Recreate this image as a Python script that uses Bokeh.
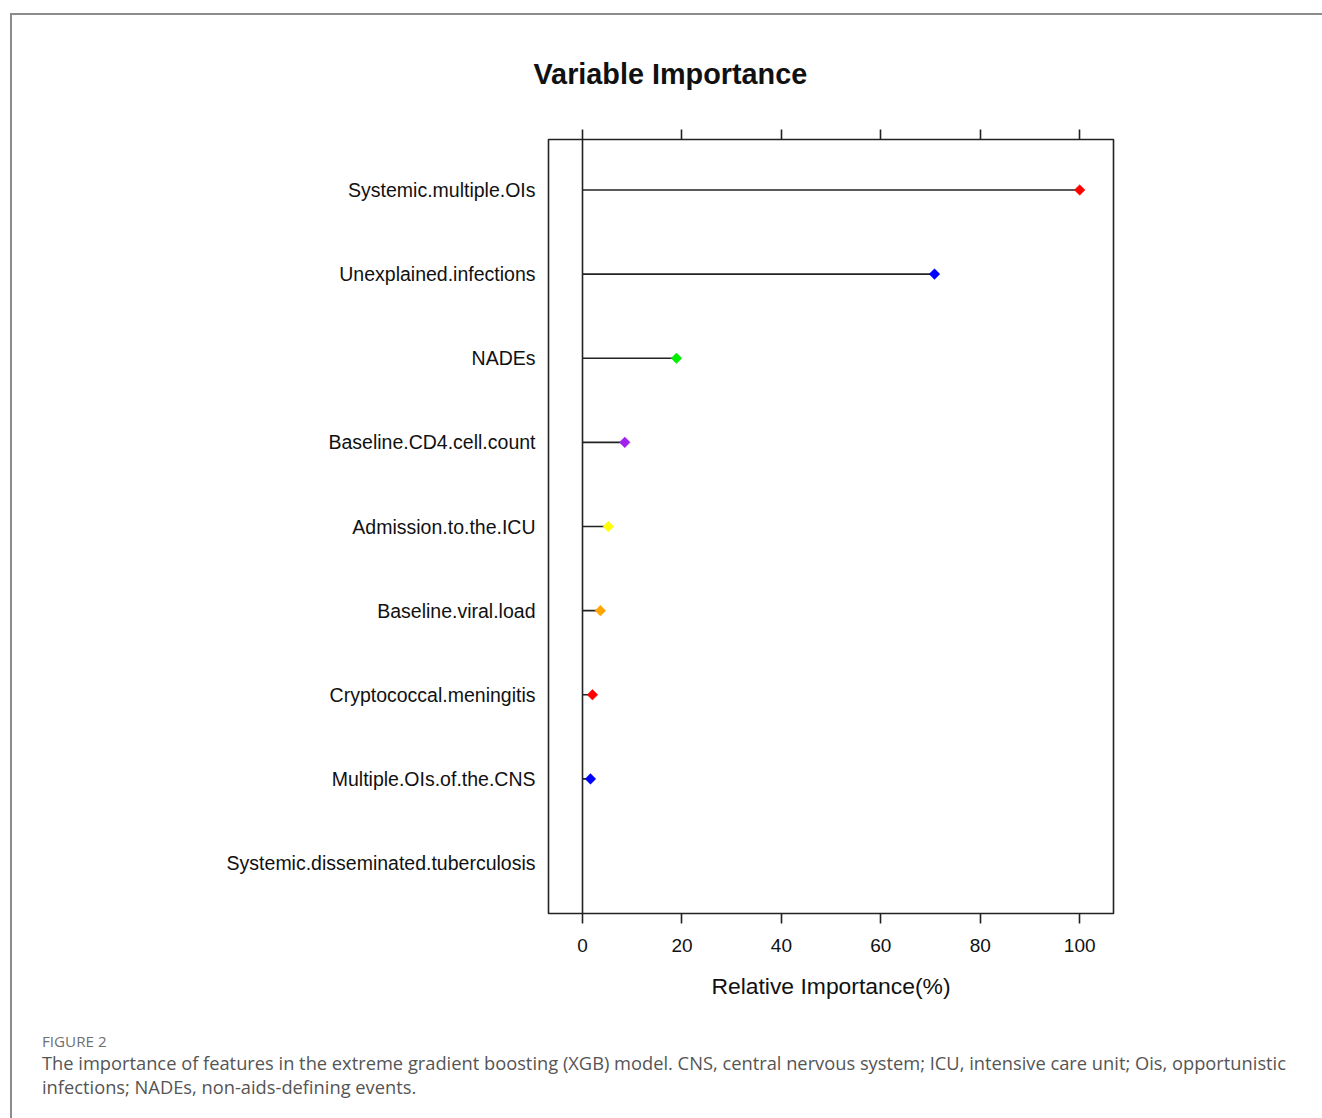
from bokeh.plotting import figure
from bokeh.models import Range1d, LinearAxis, FixedTicker, Span, Title, ColumnDataSource, Div
from bokeh.layouts import column
from bokeh.embed import file_html
from bokeh.resources import INLINE

variables = [
    "Systemic.multiple.OIs",
    "Unexplained.infections",
    "NADEs",
    "Baseline.CD4.cell.count",
    "Admission.to.the.ICU",
    "Baseline.viral.load",
    "Cryptococcal.meningitis",
    "Multiple.OIs.of.the.CNS",
    "Systemic.disseminated.tuberculosis",
]
importance = [100.0, 70.8, 18.9, 8.5, 5.2, 3.6, 2.0, 1.6, 0.0]
marker_colors = ["#FF0000", "#0000FF", "#00EE00", "#A020F0", "#FFFF00", "#FFA500", "#FF0000", "#0000FF", "#00EE00"]
x_ticks = [0, 20, 40, 60, 80, 100]

title_text = "Variable Importance"
x_label = "Relative Importance(%)"
fig_label = "FIGURE 2"
caption_1 = ("The importance of features in the extreme gradient boosting (XGB) model. CNS, central nervous system; "
             "ICU, intensive care unit; Ois, opportunistic")
caption_2 = "infections; NADEs, non-aids-defining events."

n = len(variables)
ypos = [n - i for i in range(n)]

OX, OY = 12, 15          # canvas origin after css margin + border
W, H = 1308, 1011
FL, FR, FT, FB = 548 - OX, 1113 - OX, 139 - OY, 913 - OY  # frame in canvas px

p = figure(width=W, height=H, output_backend="svg", toolbar_location=None,
           x_range=Range1d(-6.84, 106.8), y_range=Range1d(0.4, n + 0.6),
           min_border_left=FL, min_border_right=W - FR, min_border_top=FT, min_border_bottom=H - FB,
           background_fill_color="white", border_fill_color="white")
p.grid.visible = False
p.outline_line_color = "#222222"
p.outline_line_width = 1.6

axis_color = "#222222"
font = "Liberation Sans"

# bottom axis
xa = p.xaxis[0]
xa.ticker = FixedTicker(ticks=x_ticks)
xa.axis_line_color = None
xa.major_tick_out = 10
xa.major_tick_in = 0
xa.major_tick_line_color = axis_color
xa.major_tick_line_width = 1.6
xa.minor_tick_line_color = None
xa.major_label_text_font = font
xa.major_label_text_font_size = "19px"
xa.major_label_text_color = "#111111"
xa.major_label_standoff = 15
xa.axis_label = x_label
xa.axis_label_text_font = font
xa.axis_label_text_font_style = "normal"
xa.axis_label_text_font_size = "22.9px"
xa.axis_label_text_color = "#111111"
xa.axis_label_standoff = 18

# top axis (ticks only)
ta = LinearAxis(ticker=FixedTicker(ticks=x_ticks))
ta.axis_line_color = None
ta.major_tick_out = 10
ta.major_tick_in = 0
ta.major_tick_line_color = axis_color
ta.major_tick_line_width = 1.6
ta.minor_tick_line_color = None
ta.major_label_text_alpha = 0
ta.major_label_text_font_size = "1px"
p.add_layout(ta, "above")

# left axis (labels only)
ya = p.yaxis[0]
ya.ticker = FixedTicker(ticks=ypos)
ya.major_label_overrides = {y: v for y, v in zip(ypos, variables)}
ya.axis_line_color = None
ya.major_tick_line_color = None
ya.minor_tick_line_color = None
ya.major_label_text_font = font
ya.major_label_text_font_size = "19.5px"
ya.major_label_text_color = "#111111"
ya.major_label_standoff = 7

p.add_layout(Span(location=0, dimension="height", line_color=axis_color, line_width=1.6))

src = ColumnDataSource(dict(y=ypos, v=importance, x0=[0] * n))
p.segment(x0="x0", y0="y", x1="v", y1="y", source=src, line_color=axis_color, line_width=1.6)

mi = [i for i in range(n) if importance[i] > 0]
msrc = ColumnDataSource(dict(y=[ypos[i] for i in mi], v=[importance[i] for i in mi], c=[marker_colors[i] for i in mi]))
p.scatter(x="v", y="y", source=msrc, marker="square", size=7.5, angle=0.785398,
          fill_color="c", line_color="c", line_width=0.5)

p.add_layout(Title(text=title_text, align="left", offset=(533 - OX) - FL, standoff=79,
                   text_font=font, text_font_style="bold", text_font_size="28.8px", text_color="#111111"), "above")

caption_html = (
    '<div style="padding-left:25px;font-family:\'Open Sans\';white-space:nowrap;">'
    f'<div style="font-size:15.2px;line-height:20px;height:20px;color:#707070;">{fig_label}</div>'
    f'<div style="font-size:18.3px;line-height:24px;color:#555555;">{caption_1}<br>{caption_2}</div>'
    '</div>'
)
cap = Div(text=caption_html, width=W, height=86)

layout = column(p, cap, spacing=0,
                styles={"margin-left": "10px", "margin-top": "13px",
                        "border-left": "2px solid #8c8c8c", "border-top": "2px solid #8c8c8c"})

open("out.html", "w").write(file_html(layout, INLINE))
